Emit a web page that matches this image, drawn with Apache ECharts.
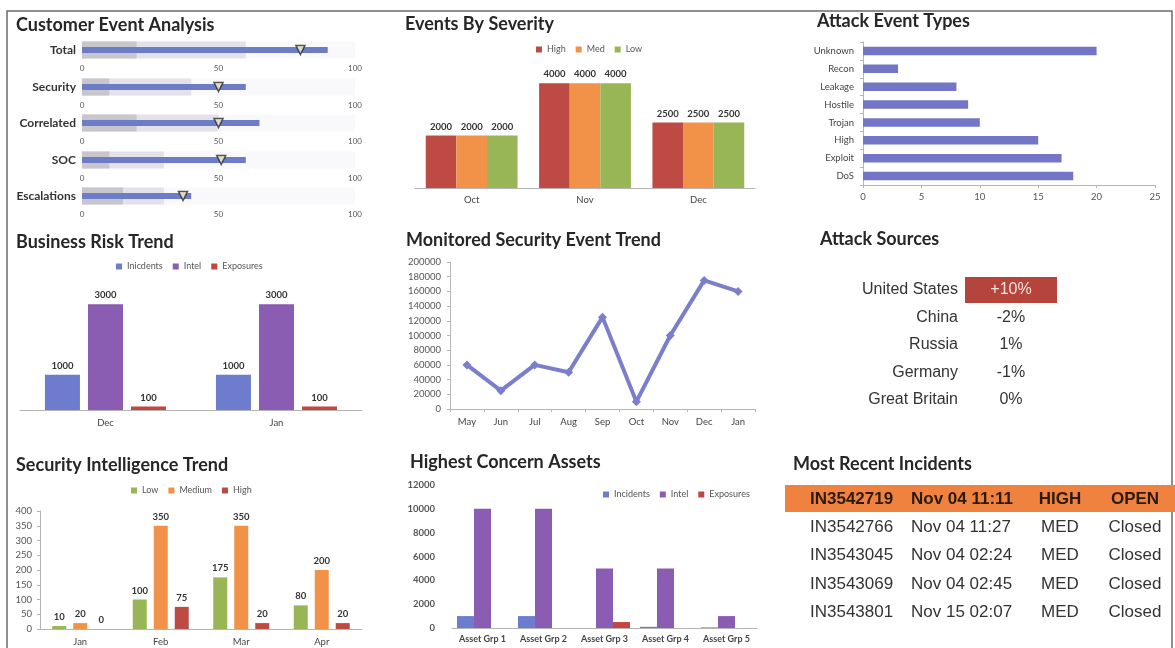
<!DOCTYPE html>
<html>
<head>
<meta charset="utf-8">
<title>Security Dashboard</title>
<script src="https://cdn.jsdelivr.net/npm/echarts@6/dist/echarts.min.js"></script>
<style>
  html, body { margin: 0; padding: 0; background: #ffffff; }
  #main { width: 1175px; height: 648px; }
</style>
</head>
<body>
<div id="main"></div>
<script>
// ---------- Customer Event Analysis (bullet charts) ----------
const bulletLabels  = ['Total', 'Security', 'Correlated', 'SOC', 'Escalations'];
const bulletPoor    = [20, 10, 20, 10, 15];
const bulletFair    = [60, 40, 50, 30, 30];
const bulletGood    = [100, 100, 100, 100, 100];
const bulletValues  = [90, 60, 65, 60, 40];
const bulletTargets = [80, 50, 50, 51, 37];
const bulletTicks   = [0, 50, 100];

// ---------- Events By Severity ----------
const severityMonths = ['Oct', 'Nov', 'Dec'];
const severityHigh   = [2000, 4000, 2500];
const severityMed    = [2000, 4000, 2500];
const severityLow    = [2000, 4000, 2500];

// ---------- Attack Event Types ----------
const attackTypes  = ['Unknown', 'Recon', 'Leakage', 'Hostile', 'Trojan', 'High', 'Exploit', 'DoS'];
const attackCounts = [20, 3, 8, 9, 10, 15, 17, 18];

// ---------- Business Risk Trend ----------
const riskMonths    = ['Dec', 'Jan'];
const riskIncidents = [1000, 1000];
const riskIntel     = [3000, 3000];
const riskExposures = [100, 100];

// ---------- Monitored Security Event Trend ----------
const trendMonths = ['May', 'Jun', 'Jul', 'Aug', 'Sep', 'Oct', 'Nov', 'Dec', 'Jan'];
const trendEvents = [60000, 25000, 60000, 50000, 125000, 10000, 100000, 175000, 160000];

// ---------- Attack Sources ----------
const sourceCountries = ['United States', 'China', 'Russia', 'Germany', 'Great Britain'];
const sourceChanges   = ['+10%', '-2%', '1%', '-1%', '0%'];

// ---------- Security Intelligence Trend ----------
const intelMonths = ['Jan', 'Feb', 'Mar', 'Apr'];
const intelLow    = [10, 100, 175, 80];
const intelMedium = [20, 350, 350, 200];
const intelHigh   = [0, 75, 20, 20];

// ---------- Highest Concern Assets ----------
const assetGroups    = ['Asset Grp 1', 'Asset Grp 2', 'Asset Grp 3', 'Asset Grp 4', 'Asset Grp 5'];
const assetIncidents = [1000, 1000, 0, 100, 50];
const assetIntel     = [10000, 10000, 5000, 5000, 1000];
const assetExposures = [0, 0, 500, 0, 0];

// ---------- Most Recent Incidents ----------
const incidentIds      = ['IN3542719', 'IN3542766', 'IN3543045', 'IN3543069', 'IN3543801'];
const incidentTimes    = ['Nov 04 11:11', 'Nov 04 11:27', 'Nov 04 02:24', 'Nov 04 02:45', 'Nov 15 02:07'];
const incidentSeverity = ['HIGH', 'MED', 'MED', 'MED', 'MED'];
const incidentStatus   = ['OPEN', 'Closed', 'Closed', 'Closed', 'Closed'];

// ---------- styling ----------
const FONT = 'Lato, "Noto Sans", sans-serif';
const TABLE_FONT = '"Liberation Sans", Arial, sans-serif';
const C = {
  red: '#bd4a43', orange: '#f29249', green: '#98b655',
  blue: '#6e7cce', purple: '#8a5db2', expo: '#c2453e',
  axis: '#b5b5b5', text: '#444', title: '#262626'
};
const plain = v => String(v);   // numbers without thousands separators
const tickLabel = { fontFamily: FONT, fontSize: 9.5, color: '#555', formatter: plain };
const catLabel = { fontFamily: FONT, fontSize: 9.5, color: '#444', interval: 0 };
const barLabel = { show: true, position: 'top', distance: 4, fontFamily: FONT, fontSize: 9.5, fontWeight: 'bold', color: '#333' };

const grids = [], xAxes = [], yAxes = [], series = [], legends = [], graphics = [];
const addGrid = g => (grids.push(g), grids.length - 1);
const addX = a => (xAxes.push(a), xAxes.length - 1);
const addY = a => (yAxes.push(a), yAxes.length - 1);

function legendAt(names, left, top) {
  legends.push({
    data: names, left: left, top: top, padding: 0, itemGap: 10,
    itemWidth: 6, itemHeight: 6, icon: 'rect', selectedMode: false,
    textStyle: { fontFamily: FONT, fontSize: 9, color: '#555' }
  });
}

function titleAt(text, x, y) {
  graphics.push({
    type: 'text', x: x, y: y, silent: true,
    style: { text: text, fill: C.title, font: 'bold 18px ' + FONT, textVerticalAlign: 'middle' }
  });
}

// frame
graphics.push({
  type: 'rect', silent: true, z: -10,
  shape: { x: 7, y: 11, width: 1165, height: 700 },
  style: { fill: 'none', stroke: '#6a6a6a', lineWidth: 1.5 }
});

// ---------- Customer Event Analysis ----------
titleAt('Customer Event Analysis', 16, 25);
const bulletCenters = [50, 87, 123, 160, 196];
bulletLabels.forEach((name, i) => {
  const yc = bulletCenters[i];
  const g = addGrid({ left: 82, top: yc - 9, width: 273, height: 18 });
  const xa = addX({
    gridIndex: g, type: 'value', min: bulletTicks[0], max: bulletTicks[bulletTicks.length - 1],
    interval: bulletTicks[1] - bulletTicks[0],
    axisLine: { show: false }, axisTick: { show: false }, splitLine: { show: false },
    axisLabel: Object.assign({}, tickLabel, { fontSize: 8, margin: 5 })
  });
  const ya = addY({
    gridIndex: g, type: 'category', data: [name],
    axisLine: { show: false }, axisTick: { show: false },
    axisLabel: { fontFamily: FONT, fontSize: 12, fontWeight: 'bold', color: '#333', margin: 6 }
  });
  const yb = addY({ gridIndex: g, type: 'category', data: [name], show: false });
  [[bulletGood, '#f9f8fb'], [bulletFair, '#e5e1eb'], [bulletPoor, '#c8c5cd']].forEach(([arr, col]) => {
    series.push({
      type: 'bar', xAxisIndex: xa, yAxisIndex: ya, data: [arr[i]],
      barWidth: 17, barGap: '-100%', itemStyle: { color: col }, silent: true
    });
  });
  series.push({
    type: 'bar', xAxisIndex: xa, yAxisIndex: yb, data: [bulletValues[i]],
    barWidth: 6, itemStyle: { color: '#6d7cc6' }
  });
  series.push({
    type: 'scatter', xAxisIndex: xa, yAxisIndex: yb, data: [[bulletTargets[i], name]],
    symbol: 'triangle', symbolRotate: 180, symbolSize: 9, z: 5,
    itemStyle: { color: '#fbf1cf', borderColor: '#2a2a2a', borderWidth: 1.5 }
  });
});

// ---------- Events By Severity ----------
titleAt('Events By Severity', 405, 24);
{
  const g = addGrid({ left: 415, top: 57, width: 340, height: 131 });
  const xa = addX({
    gridIndex: g, type: 'category', data: severityMonths,
    axisLine: { lineStyle: { color: C.axis } }, axisTick: { show: false },
    axisLabel: Object.assign({}, catLabel, { margin: 7 })
  });
  const ya = addY({ gridIndex: g, type: 'value', min: 0, max: 5000, show: false, splitLine: { show: false } });
  [['High', severityHigh, C.red], ['Med', severityMed, C.orange], ['Low', severityLow, C.green]].forEach(([n, arr, col]) => {
    series.push({
      name: n, type: 'bar', xAxisIndex: xa, yAxisIndex: ya, data: arr,
      barGap: 0, barCategoryGap: '19%', itemStyle: { color: col }, label: barLabel
    });
  });
  legendAt(['High', 'Med', 'Low'], 536, 45);
}

// ---------- Attack Event Types ----------
titleAt('Attack Event Types', 817, 21);
{
  const g = addGrid({ left: 863, top: 42, width: 292, height: 143 });
  const xa = addX({
    gridIndex: g, type: 'value', min: 0, max: 25, interval: 5,
    axisLine: { show: true, lineStyle: { color: C.axis } },
    axisTick: { show: true, length: 3, lineStyle: { color: C.axis } },
    splitLine: { show: false },
    axisLabel: Object.assign({}, tickLabel, { margin: 7 })
  });
  const ya = addY({
    gridIndex: g, type: 'category', data: attackTypes, inverse: true,
    axisLine: { show: true, lineStyle: { color: C.axis } },
    axisTick: { show: true, length: 3, lineStyle: { color: C.axis } },
    axisLabel: Object.assign({}, catLabel, { margin: 9 })
  });
  series.push({
    type: 'bar', xAxisIndex: xa, yAxisIndex: ya, data: attackCounts,
    barCategoryGap: '52%', itemStyle: { color: '#7376c6' }
  });
}

// ---------- Business Risk Trend ----------
titleAt('Business Risk Trend', 16, 242);
{
  const g = addGrid({ left: 20, top: 269, width: 342, height: 141 });
  const xa = addX({
    gridIndex: g, type: 'category', data: riskMonths,
    axisLine: { lineStyle: { color: C.axis } }, axisTick: { show: false },
    axisLabel: Object.assign({}, catLabel, { margin: 8 })
  });
  const ya = addY({ gridIndex: g, type: 'value', min: 0, max: 4000, show: false, splitLine: { show: false } });
  [['Inicdents', riskIncidents, C.blue], ['Intel', riskIntel, C.purple], ['Exposures', riskExposures, C.expo]].forEach(([n, arr, col]) => {
    series.push({
      name: n, type: 'bar', xAxisIndex: xa, yAxisIndex: ya, data: arr,
      barWidth: 35, barGap: '23%', itemStyle: { color: col }, label: barLabel
    });
  });
  legendAt(['Inicdents', 'Intel', 'Exposures'], 116, 262);
}

// ---------- Monitored Security Event Trend ----------
titleAt('Monitored Security Event Trend', 406, 240);
{
  const g = addGrid({ left: 450, top: 262, width: 305, height: 147 });
  const xa = addX({
    gridIndex: g, type: 'category', data: trendMonths, boundaryGap: true,
    axisLine: { lineStyle: { color: C.axis } },
    axisTick: { show: true, length: 3, lineStyle: { color: C.axis } },
    axisLabel: Object.assign({}, catLabel, { margin: 8 })
  });
  const ya = addY({
    gridIndex: g, type: 'value', min: 0, max: 200000, interval: 20000,
    axisLine: { show: true, lineStyle: { color: C.axis } },
    axisTick: { show: true, length: 3, lineStyle: { color: C.axis } },
    splitLine: { show: false },
    axisLabel: Object.assign({}, tickLabel, { margin: 9 })
  });
  series.push({
    type: 'line', xAxisIndex: xa, yAxisIndex: ya, data: trendEvents,
    symbol: 'diamond', symbolSize: 9,
    lineStyle: { color: '#7a7ecb', width: 4 }, itemStyle: { color: '#7a7ecb' }
  });
}

// ---------- Attack Sources ----------
titleAt('Attack Sources', 820, 239);
{
  const rowY = [290, 318, 345, 373, 400];
  graphics.push({
    type: 'rect', silent: true, shape: { x: 965, y: 277, width: 92, height: 26 },
    style: { fill: '#b5443d' }
  });
  sourceCountries.forEach((c, i) => {
    graphics.push({
      type: 'text', x: 958, y: rowY[i], silent: true,
      style: { text: c, fill: '#333', font: '16px ' + TABLE_FONT, textAlign: 'right', textVerticalAlign: 'middle' }
    });
    graphics.push({
      type: 'text', x: 1011, y: rowY[i], silent: true, z: 2,
      style: { text: sourceChanges[i], fill: i === 0 ? '#f6e3de' : '#333', font: '16px ' + TABLE_FONT, textAlign: 'center', textVerticalAlign: 'middle' }
    });
  });
}

// ---------- Security Intelligence Trend ----------
titleAt('Security Intelligence Trend', 16, 465);
{
  const g = addGrid({ left: 40, top: 511, width: 322, height: 118 });
  const xa = addX({
    gridIndex: g, type: 'category', data: intelMonths,
    axisLine: { lineStyle: { color: C.axis } }, axisTick: { show: false },
    axisLabel: Object.assign({}, catLabel, { margin: 8 })
  });
  const ya = addY({
    gridIndex: g, type: 'value', min: 0, max: 400, interval: 50,
    axisLine: { show: true, lineStyle: { color: C.axis } },
    axisTick: { show: true, length: 3, lineStyle: { color: C.axis } },
    splitLine: { show: false },
    axisLabel: Object.assign({}, tickLabel, { margin: 8 })
  });
  [['Low', intelLow, C.green], ['Medium', intelMedium, C.orange], ['High', intelHigh, C.red]].forEach(([n, arr, col]) => {
    series.push({
      name: n, type: 'bar', xAxisIndex: xa, yAxisIndex: ya, data: arr,
      barWidth: 14, barGap: '50%', itemStyle: { color: col }, label: barLabel
    });
  });
  legendAt(['Low', 'Medium', 'High'], 131, 486);
}

// ---------- Highest Concern Assets ----------
titleAt('Highest Concern Assets', 410, 462);
{
  const g = addGrid({ left: 452, top: 485, width: 305, height: 143 });
  const xa = addX({
    gridIndex: g, type: 'category', data: assetGroups,
    axisLine: { lineStyle: { color: C.axis } }, axisTick: { show: false },
    axisLabel: Object.assign({}, catLabel, { fontSize: 9, fontWeight: 'bold', margin: 7 })
  });
  const ya = addY({
    gridIndex: g, type: 'value', min: 0, max: 12000, interval: 2000,
    axisLine: { show: false }, axisTick: { show: false }, splitLine: { show: false },
    axisLabel: Object.assign({}, tickLabel, { fontWeight: 'bold', margin: 17 })
  });
  [['Incidents', assetIncidents, C.blue], ['Intel', assetIntel, C.purple], ['Exposures', assetExposures, C.expo]].forEach(([n, arr, col]) => {
    series.push({
      name: n, type: 'bar', xAxisIndex: xa, yAxisIndex: ya, data: arr,
      barWidth: 17, barGap: 0, itemStyle: { color: col }
    });
  });
  legendAt(['Incidents', 'Intel', 'Exposures'], 603, 490);
}

// ---------- Most Recent Incidents ----------
titleAt('Most Recent Incidents', 793, 464);
{
  const rowY = [499, 527, 555, 584, 612];
  graphics.push({
    type: 'rect', silent: true, shape: { x: 785, y: 485, width: 390, height: 27 },
    style: { fill: '#f0823f' }
  });
  const cols = [
    { arr: incidentIds, x: 810, align: 'left' },
    { arr: incidentTimes, x: 911, align: 'left' },
    { arr: incidentSeverity, x: 1060, align: 'center' },
    { arr: incidentStatus, x: 1135, align: 'center' }
  ];
  rowY.forEach((y, i) => {
    cols.forEach(col => {
      graphics.push({
        type: 'text', x: col.x, y: y, silent: true, z: 2,
        style: {
          text: col.arr[i], fill: i === 0 ? '#2a1a10' : '#333',
          font: (i === 0 ? 'bold ' : '') + '17px ' + TABLE_FONT,
          textAlign: col.align, textVerticalAlign: 'middle'
        }
      });
    });
  });
}

const chart = echarts.init(document.getElementById('main'), null, { renderer: 'canvas' });
chart.setOption({
  animation: false,
  backgroundColor: '#ffffff',
  grid: grids,
  xAxis: xAxes,
  yAxis: yAxes,
  legend: legends,
  series: series,
  graphic: { elements: graphics }
});
</script>
</body>
</html>
